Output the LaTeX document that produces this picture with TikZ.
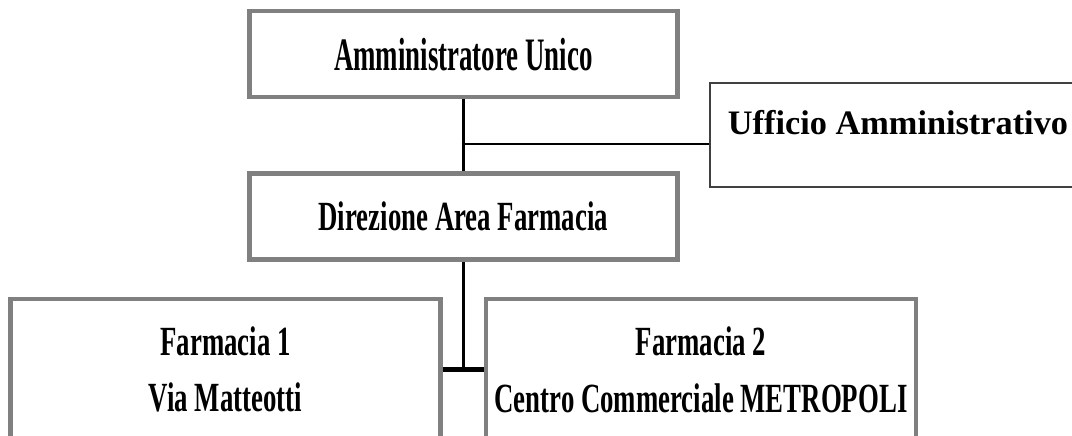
\documentclass[tikz,border=0pt]{standalone}
\usepackage{fontspec}
\newfontfamily\topfont{Liberation Serif}[FakeStretch=0.578]
\newfontfamily\boxfont{Liberation Serif}[FakeStretch=0.646]
\newfontfamily\sidefont{Liberation Serif}

\begin{document}
\begin{tikzpicture}[x=1pt,y=1pt,
                    org node/.style={rectangle,draw=gray,line width=4.5pt,inner sep=0pt,
                      minimum width=428pt,minimum height=86pt,align=center,
                      font=\boxfont\bfseries\fontsize{41.5}{56.7}\selectfont},
                    side node/.style={rectangle,draw=black!75,line width=1.5pt,inner sep=0pt,
                      minimum width=376pt,text height=52pt,text depth=52pt,
                      font=\sidefont\bfseries\fontsize{34.3}{40}\selectfont}]
  \useasboundingbox (0,0) rectangle (1072,-436);
  \clip (0,0) rectangle (1072,-436);

  \node[org node,font=\topfont\bfseries\fontsize{46.5}{50}\selectfont] (au) at (463.3,-54.2) {Amministratore Unico};
  \node[org node] (dir) at (463.3,-216.5) {Direzione Area Farmacia};
  \node[side node] (uff) at (898,-135) {Ufficio Amministrativo};
  \node[org node,minimum width=430pt,minimum height=141pt] (f1) at (225.5,-369.5) {Farmacia 1\\Via Matteotti};
  \node[org node,minimum width=430pt,minimum height=141pt] (f2) at (701,-369.5) {Farmacia 2\\Centro Commerciale METROPOLI};

  \coordinate (split) at (461.5,-144);
  \coordinate (hub) at (463.3,-369.5);

  \path[draw=black,line width=3pt]
    (au) edge (dir)
    (dir) edge (hub);
  \path[draw=black,line width=1.3pt]
    (split) edge (split -| uff.west);
  \path[draw=black,line width=5pt]
    (f1) edge (f2);
\end{tikzpicture}
\end{document}
